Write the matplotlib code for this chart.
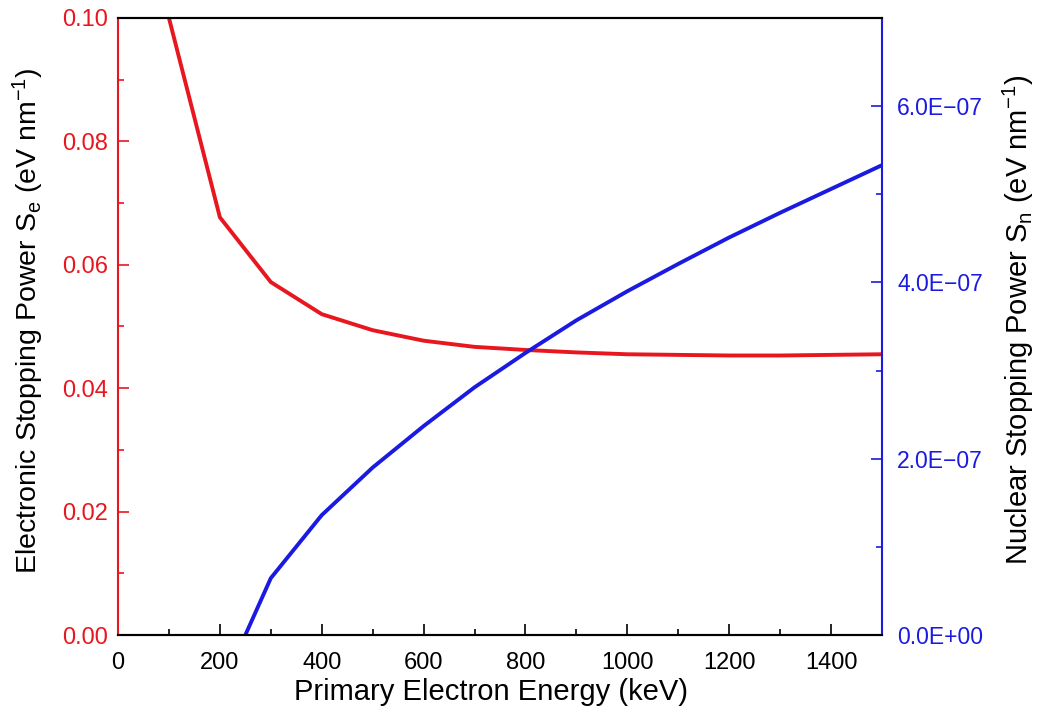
import matplotlib.pyplot as plt
from matplotlib.ticker import MultipleLocator, FuncFormatter

plt.rcParams['font.family'] = ['Liberation Sans', 'DejaVu Sans']
plt.rcParams['mathtext.default'] = 'regular'

# Datos
energia = [100, 200, 300, 400, 500, 600, 700, 800, 900, 1000, 1100, 1200, 1300, 1400, 1500]
se = [0.1000, 0.0677, 0.0572, 0.0520, 0.0494, 0.0477, 0.0467, 0.0462, 0.0458,
      0.0455, 0.0454, 0.0453, 0.0453, 0.0454, 0.0455]

energia_n = [250, 300, 400, 500, 600, 700, 800, 900, 1000, 1100, 1200, 1300, 1400, 1500]
sn = [0.0, 0.645e-7, 1.36e-7, 1.90e-7, 2.37e-7, 2.81e-7, 3.20e-7, 3.57e-7, 3.90e-7,
      4.21e-7, 4.51e-7, 4.79e-7, 5.06e-7, 5.33e-7]

rojo = '#e8161e'
azul = '#1a1ae0'

fig = plt.figure(figsize=(10.37, 7.19), dpi=100)
ax1 = fig.add_axes([0.1138, 0.1168, 0.7367, 0.8582])
ax2 = ax1.twinx()

ax1.plot(energia, se, color=rojo, lw=2.8)
ax2.plot(energia_n, sn, color=azul, lw=2.8)

ax1.set_xlim(0, 1500)
ax1.set_ylim(0, 0.10)
ax2.set_ylim(0, 7e-7)

ax1.xaxis.set_major_locator(MultipleLocator(200))
ax1.xaxis.set_minor_locator(MultipleLocator(100))
ax1.yaxis.set_major_locator(MultipleLocator(0.02))
ax1.yaxis.set_minor_locator(MultipleLocator(0.01))
ax1.yaxis.set_major_formatter(FuncFormatter(lambda v, p: f'{v:.2f}'))
ax2.yaxis.set_major_locator(MultipleLocator(2e-7))
ax2.yaxis.set_minor_locator(MultipleLocator(1e-7))
ax2.yaxis.set_major_formatter(FuncFormatter(lambda v, p: f'{v:.1E}'.replace('-', '\u2212')))

ax1.tick_params(axis='x', which='both', direction='in', labelsize=17, width=1.2, colors='black', pad=12)
ax1.tick_params(axis='x', which='major', length=8)
ax1.tick_params(axis='x', which='minor', length=4)
ax1.tick_params(axis='y', which='both', direction='in', labelsize=17, width=1.2, colors=rojo, pad=7)
ax1.tick_params(axis='y', which='major', length=8)
ax1.tick_params(axis='y', which='minor', length=4)
ax2.tick_params(axis='y', which='both', direction='in', labelsize=16.5, width=1.2, colors=azul, pad=11)
ax2.tick_params(axis='y', which='major', length=8)
ax2.tick_params(axis='y', which='minor', length=4)

for a in (ax1, ax2):
    for s in a.spines.values():
        s.set_linewidth(1.5)
ax1.spines['left'].set_color(rojo)
ax2.spines['left'].set_visible(False)
ax2.spines['right'].set_color(azul)
ax1.spines['right'].set_visible(False)

ax1.set_xlabel('Primary Electron Energy (keV)', fontsize=21)
ax1.set_ylabel('Electronic Stopping Power S$_e$ (eV nm$^{-1}$)', fontsize=20.5)
ax2.set_ylabel('Nuclear Stopping Power S$_n$ (eV nm$^{-1}$)', fontsize=21)
ax1.xaxis.set_label_coords(0.488, -0.070)
ax1.yaxis.set_label_coords(-0.094, 0.51)
ax2.yaxis.set_label_coords(1.156, 0.51)

fig.savefig('out.png', dpi=100)
